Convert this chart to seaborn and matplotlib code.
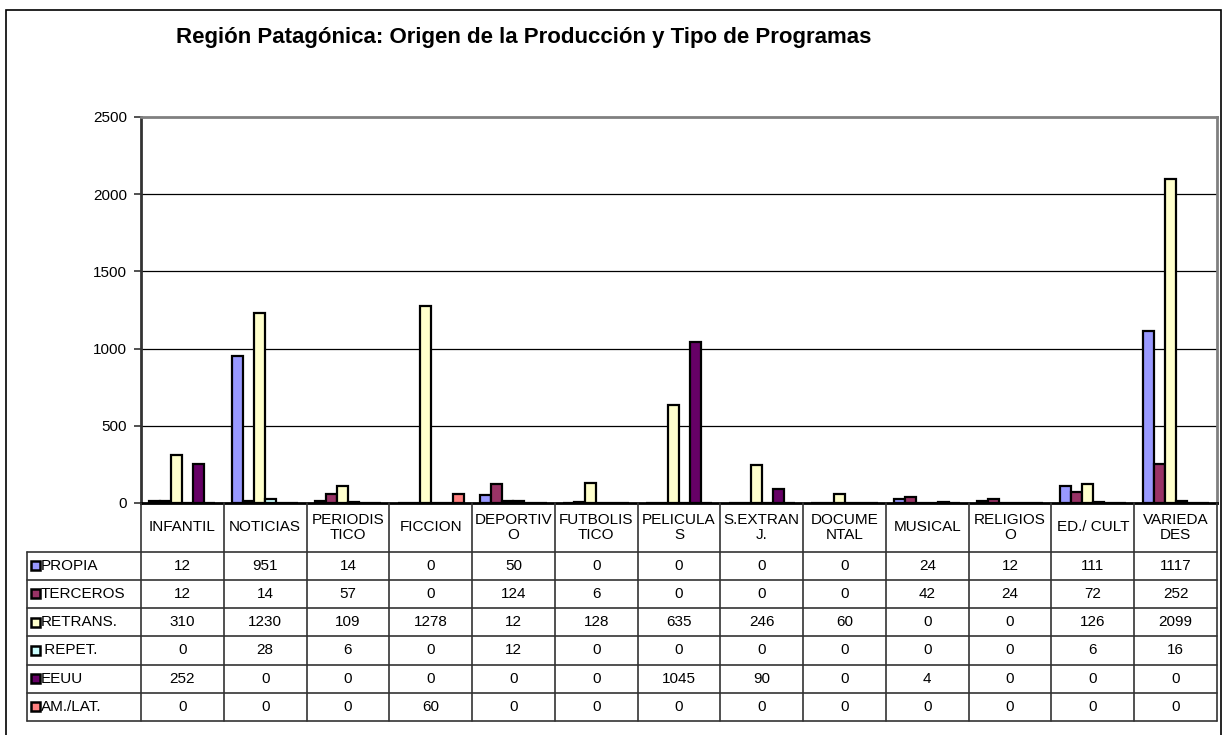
import numpy as np
import pandas as pd
import seaborn as sns
import matplotlib.pyplot as plt
from matplotlib.patches import Rectangle

# Datos: Región Patagónica, origen de la producción por tipo de programa
categorias = ["INFANTIL", "NOTICIAS", "PERIODIS\nTICO", "FICCION", "DEPORTIV\nO",
              "FUTBOLIS\nTICO", "PELICULA\nS", "S.EXTRAN\nJ.", "DOCUME\nNTAL",
              "MUSICAL", "RELIGIOS\nO", "ED./ CULT", "VARIEDA\nDES"]
origenes = ["PROPIA", "TERCEROS", "RETRANS.", " REPET.", "EEUU", "AM./LAT."]

propia = [12, 951, 14, 0, 50, 0, 0, 0, 0, 24, 12, 111, 1117]
terceros = [12, 14, 57, 0, 124, 6, 0, 0, 0, 42, 24, 72, 252]
retrans = [310, 1230, 109, 1278, 12, 128, 635, 246, 60, 0, 0, 126, 2099]
repet = [0, 28, 6, 0, 12, 0, 0, 0, 0, 0, 0, 6, 16]
eeuu = [252, 0, 0, 0, 0, 0, 1045, 90, 0, 4, 0, 0, 0]
amlat = [0, 0, 0, 60, 0, 0, 0, 0, 0, 0, 0, 0, 0]

colores = ["#9999FF", "#993366", "#FFFFCC", "#CCFFFF", "#660066", "#FF8080"]

series = [propia, terceros, retrans, repet, eeuu, amlat]
dados = pd.DataFrame([
    {"programa": c, "origen": o, "valor": v}
    for o, vals in zip(origenes, series)
    for c, v in zip(categorias, vals)
])

sns.set_style("white")
plt.rcParams["font.family"] = ["Liberation Sans", "DejaVu Sans"]
plt.rcParams["text.color"] = "black"
plt.rcParams["ytick.color"] = "black"
plt.rcParams["xtick.color"] = "black"

W, H = 1222, 735
fig = plt.figure(figsize=(W / 100, H / 100), dpi=100)

# geometría en píxeles
x0, x1 = 141, 1217
y_top, y_base = 117, 503
tab_left, tab_bottom = 26.7, 721
fs = 11

ax = fig.add_axes([x0 / W, (H - y_base) / H, (x1 - x0) / W, (y_base - y_top) / H])
sns.barplot(data=dados, x="programa", y="valor", hue="origen", order=categorias,
            hue_order=origenes, palette=colores, saturation=1, edgecolor="black",
            linewidth=1.6, width=0.8, legend=False, ax=ax)
ax.set_xlim(-0.5, len(categorias) - 0.5)
ax.set_ylim(0, 2500)
ax.set_yticks(np.arange(0, 2501, 500))
ax.set_xticks([])
ax.set_xlabel("")
ax.set_ylabel("")
ax.tick_params(axis="y", direction="out", length=5, width=1.2, pad=5,
               labelsize=fs, left=True, color="#333333", labelcolor="black")
for v in range(500, 2500, 500):
    ax.axhline(v, color="black", lw=0.9, zorder=0)
for lado in ["top", "right"]:
    ax.spines[lado].set_color("#808080")
    ax.spines[lado].set_linewidth(2)
ax.spines["left"].set_color("#333333")
ax.spines["left"].set_linewidth(2)
ax.spines["bottom"].set_color("black")
ax.spines["bottom"].set_linewidth(2)
ax.spines["bottom"].set_zorder(5)

# tabla de datos
tab = fig.add_axes([tab_left / W, (H - tab_bottom) / H, (x1 - tab_left) / W,
                    (tab_bottom - y_base) / H])
tab.set_xlim(tab_left, x1)
tab.set_ylim(tab_bottom, y_base)
tab.axis("off")

n = len(categorias)
paso = (x1 - x0) / n
y_head = 551.5
filas = np.linspace(y_head, tab_bottom, len(origenes) + 1)
lc = "#333333"

for j in range(n + 1):
    xj = x0 + j * paso
    tab.plot([xj, xj], [y_base, tab_bottom], color=lc, lw=1.2, clip_on=False)
tab.plot([tab_left, tab_left], [y_head, tab_bottom], color=lc, lw=1.2, clip_on=False)
for yf in filas:
    tab.plot([tab_left, x1], [yf, yf], color=lc, lw=1.2, clip_on=False)

for j, c in enumerate(categorias):
    tab.text(x0 + (j + 0.5) * paso, (y_base + y_head) / 2, c, ha="center",
             va="center", fontsize=fs, linespacing=1.05)

for i, (o, vals, col) in enumerate(zip(origenes, series, colores)):
    yc = (filas[i] + filas[i + 1]) / 2
    tab.add_patch(Rectangle((30.7, yc - 4.5), 8.8, 9, facecolor=col,
                            edgecolor="black", lw=1.8, clip_on=False))
    tab.text(40.5, yc, o, ha="left", va="center", fontsize=fs)
    for j, v in enumerate(vals):
        tab.text(x0 + (j + 0.5) * paso, yc, str(v), ha="center", va="center",
                 fontsize=fs)

# título y borde exterior
fig.text(176 / W, 1 - 38 / H, "Región Patagónica: Origen de la Producción y Tipo de Programas",
         ha="left", va="center", fontsize=16, fontweight="bold")
fig.add_artist(Rectangle((6 / W, -0.01), (1221 - 6) / W, 1.01 - 10 / H,
                         transform=fig.transFigure, fill=False, edgecolor="black",
                         lw=1.2))

plt.savefig("out.png", dpi=100)
